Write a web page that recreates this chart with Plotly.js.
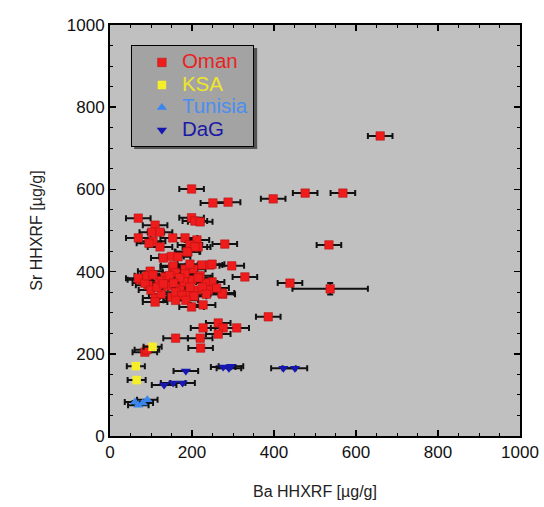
<!DOCTYPE html>
<html>
<head>
<meta charset="utf-8">
<script src="https://cdn.plot.ly/plotly-3.0.1.min.js"></script>
<style>html,body{margin:0;padding:0;background:#fff;}#chart{width:544px;height:507px;}</style>
</head>
<body>
<div id="chart"></div>
<script>
// Oman samples: Ba (x), Sr (y)
const omanBa = [659,199,251,288,398,476,568,534,537,439,386,280,297,329,275,
  69,199,207,220,110,102,122,69,105,95,153,183,212,195,215,122,190,207,
  130,150,166,188,
  98,153,183,203,224,244,195,154,249,
  73,93,110,151,171,200,212,249,273,232,134,159,183,69,85,100,120,140,160,180,190,220,240,125,145,170,205,225,260,115,130,155,175,195,215,235,90,105,160,185,
  110,199,227,227,264,276,309,160,220,264,221,85,90];
const omanSr = [730,601,567,569,577,591,591,465,358,372,290,467,414,387,345,
  530,531,523,521,513,496,496,482,474,469,482,482,477,465,460,460,448,460,
  433,437,436,448,
  401,411,406,406,416,416,418,414,418,
  380,367,336,338,360,380,355,375,348,372,387,397,394,384,372,355,378,365,350,375,345,390,355,345,390,385,340,362,360,362,370,372,342,362,385,345,390,392,330,330,
  326,314,319,263,275,263,263,238,238,248,214,204,210];
const omanBaErr = omanBa.map((v,i)=> (i===8 ? 92 : 30));
const omanSrErr = omanBa.map((v,i)=> (i===8 ? 14 : 5));

const ksaBa = [104,63,65];
const ksaSr = [217,170,136];
const ksaBaErr = [22,22,22];

const tunBa = [69,91,61,80];
const tunSr = [75,88,83,80];
const tunBaErr = [25,25,25,25];

const dagBa = [185,132,154,177,276,295,290,423,451];
const dagSr = [158,124,129,129,168,170,165,165,165];
const dagBaErr = [30,30,30,30,30,30,30,30,30];

const font = 'Liberation Sans, Arial, sans-serif';
function errX(arr){return {type:'data', array:arr, visible:true, color:'#111', thickness:2, width:3};}
function errY(arr){return {type:'data', array:arr, visible:true, color:'#111', thickness:2, width:3};}
function lname(t,c){return '<span style="color:'+c+';font-size:20.5px">'+t+'</span>';}

const traces = [
  {x:omanBa, y:omanSr, mode:'markers', type:'scatter', name:lname('Oman','#e8231f'),
   marker:{symbol:'square', size:8.5, color:'#ee1c1c', line:{color:'#b01010', width:0.5}},
   error_x:errX(omanBaErr), error_y:errY(omanSrErr)},
  {x:ksaBa, y:ksaSr, mode:'markers', type:'scatter', name:lname('KSA','#f0e52a'),
   marker:{symbol:'square', size:8.5, color:'#f7ee2a'},
   error_x:errX(ksaBaErr)},
  {x:tunBa, y:tunSr, mode:'markers', type:'scatter', name:lname('Tunisia','#4a8ef0'),
   marker:{symbol:'triangle-up', size:9, color:'#3a86ee'},
   error_x:errX(tunBaErr)},
  {x:dagBa, y:dagSr, mode:'markers', type:'scatter', name:lname('DaG','#1a1aa6'),
   marker:{symbol:'triangle-down', size:9, color:'#1616b0'},
   error_x:errX(dagBaErr)}
];

const axisCommon = {
  range:[0,1000], dtick:200, tick0:0, ticks:'inside', ticklen:6, tickwidth:1.5, tickcolor:'#000',
  showline:true, linewidth:2, linecolor:'#000', mirror:'ticks', showgrid:false, zeroline:false,
  tickfont:{family:font, size:17, color:'#111'},
  minor:{dtick:50, ticks:'inside', ticklen:3, tickwidth:1, tickcolor:'#000', showgrid:false}
};

const layout = {
  width:544, height:507,
  margin:{l:110, r:24, t:25, b:71},
  paper_bgcolor:'#ffffff', plot_bgcolor:'#c0c0c0',
  font:{family:font, color:'#111'},
  showlegend:true,
  legend:{x:0.051, y:0.951, xanchor:'left', yanchor:'top', bgcolor:'#a3a3a3', bordercolor:'#000', borderwidth:1,
    font:{family:font, size:15}, tracegroupgap:0, indentation:10},
  xaxis:Object.assign({}, axisCommon, {title:{text:'Ba HHXRF [µg/g]', font:{family:font, size:16, color:'#222'}, standoff:24}}),
  yaxis:Object.assign({}, axisCommon, {title:{text:'Sr HHXRF [µg/g]', font:{family:font, size:16, color:'#222'}, standoff:20}}),
  shapes:[{type:'rect', xref:'paper', yref:'paper', x0:0.059, x1:0.359, y0:0.698, y1:0.944,
    fillcolor:'#555', line:{width:0}, layer:'above'}]
};

Plotly.newPlot('chart', traces, layout, {displayModeBar:false, staticPlot:true});
</script>
</body>
</html>
